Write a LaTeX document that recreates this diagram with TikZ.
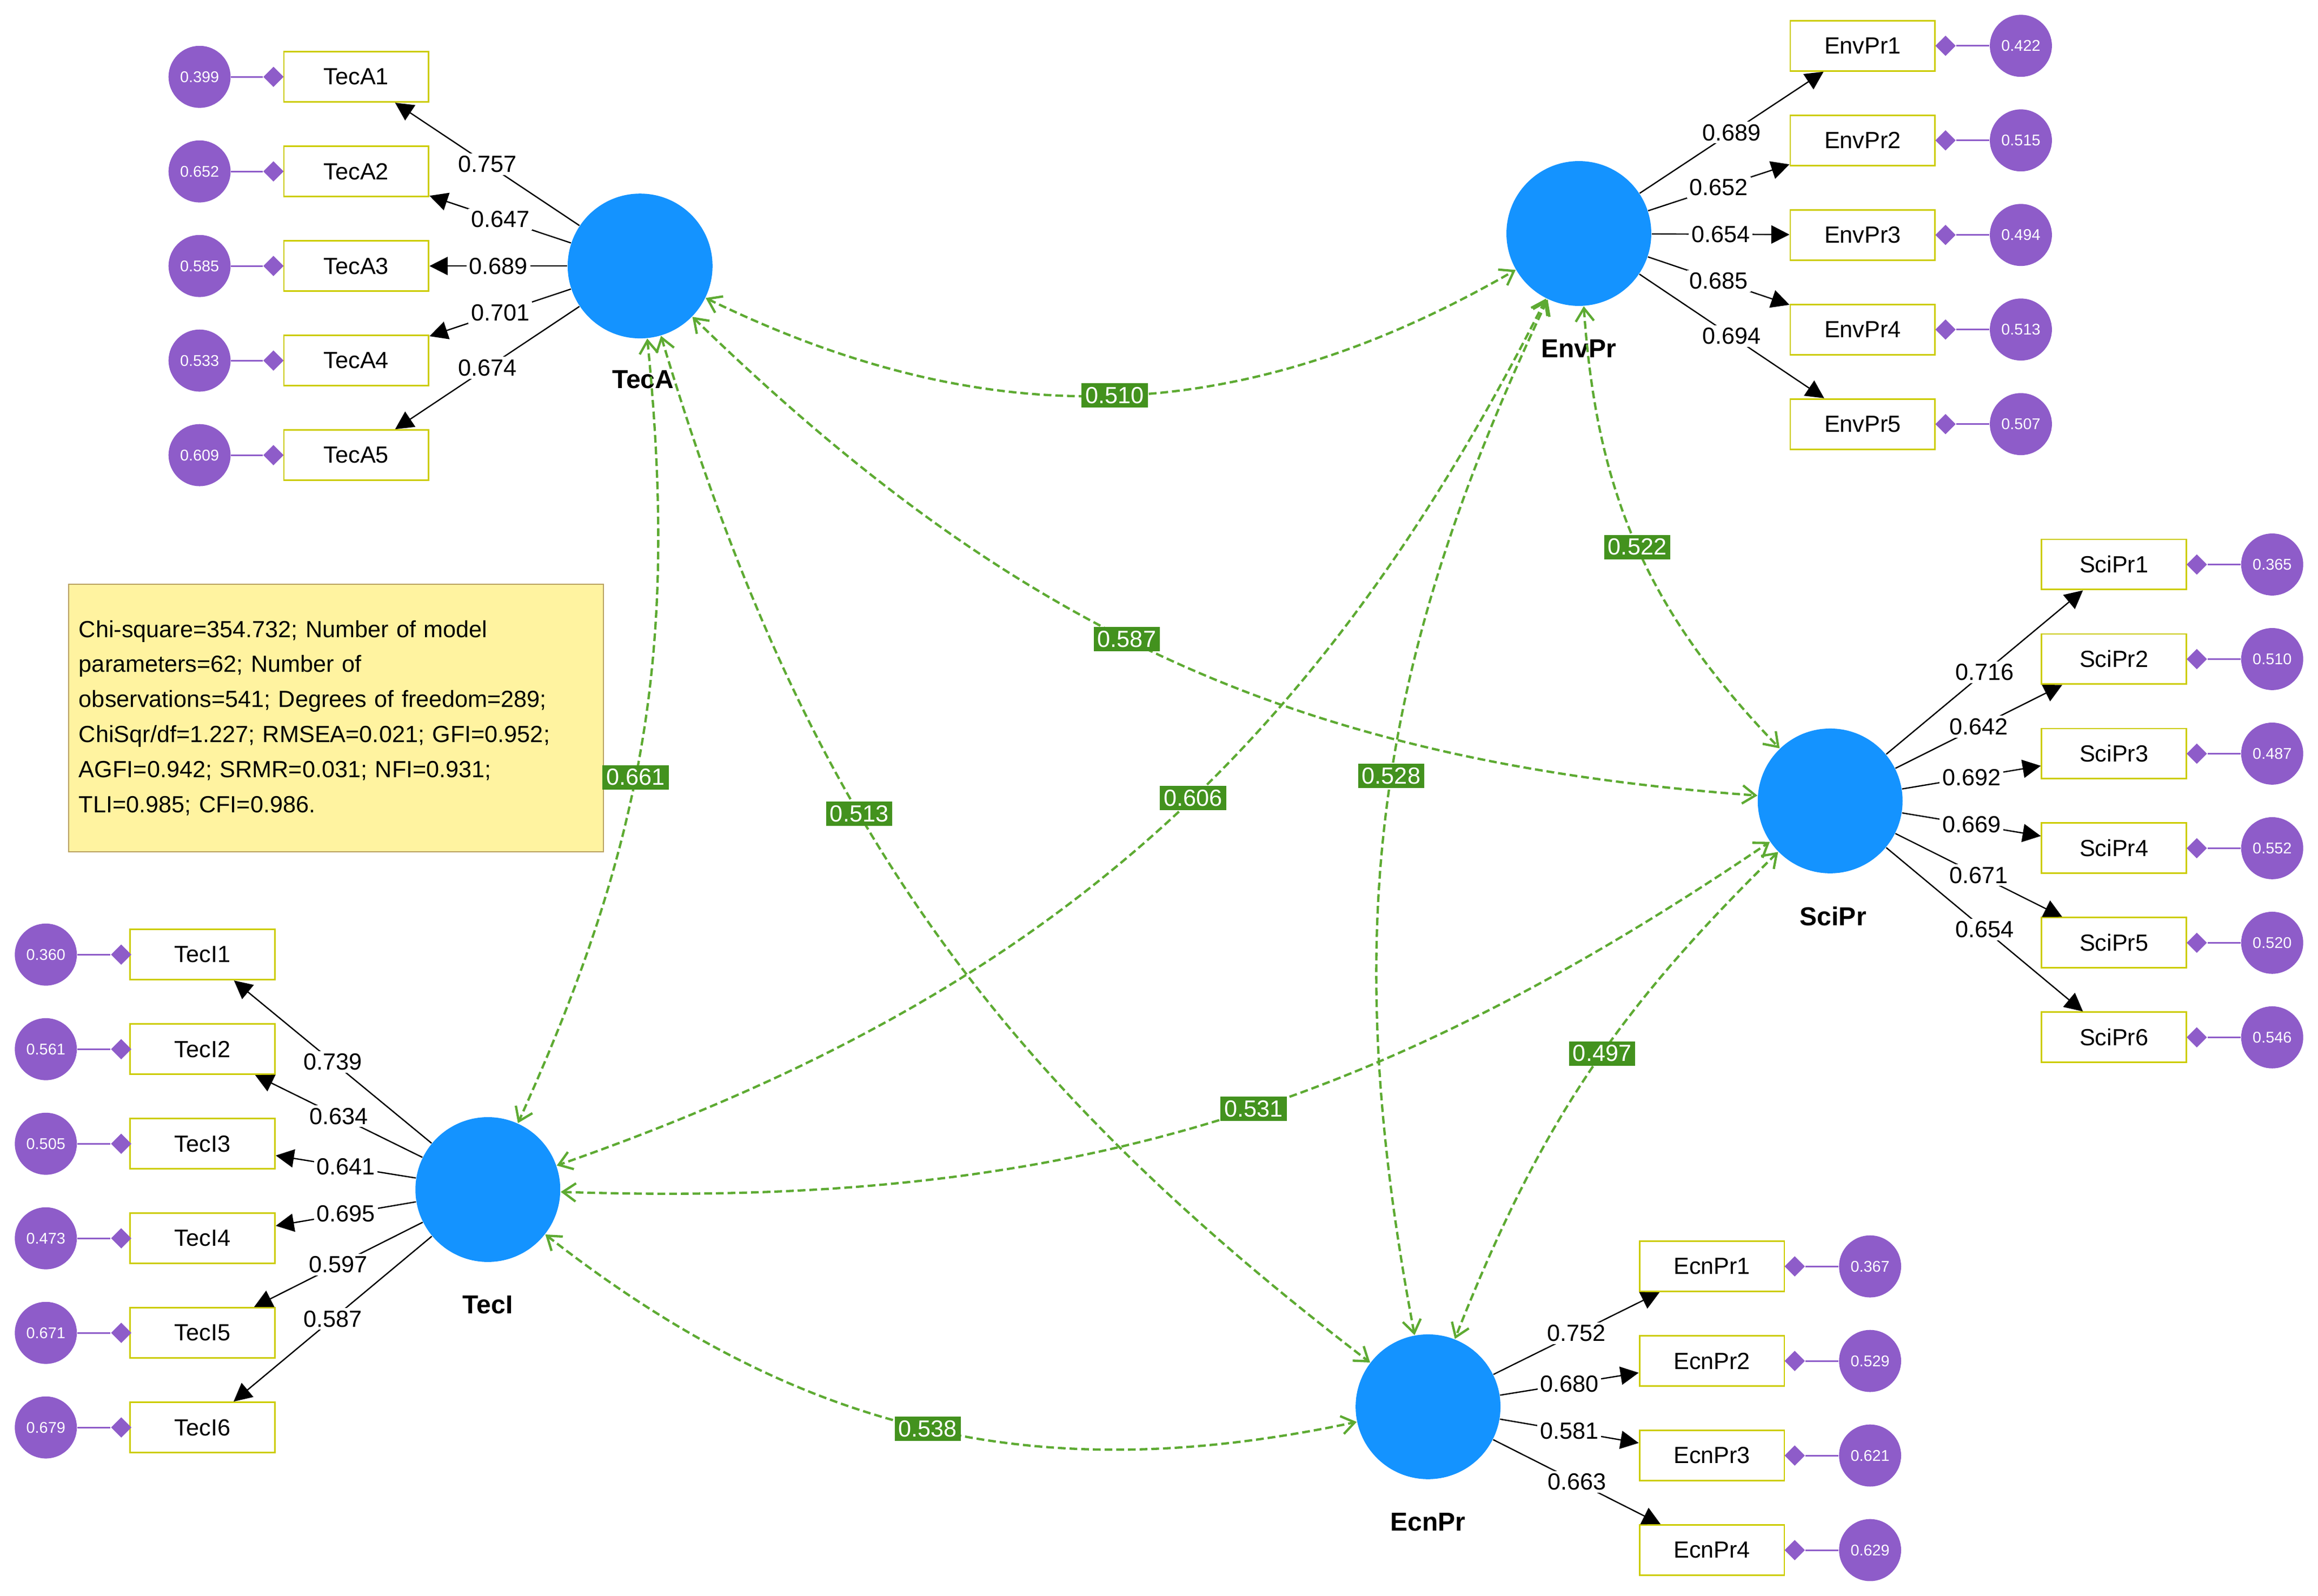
\documentclass[tikz,border=0pt]{standalone}
\usepackage{fontspec}
\setmainfont{Liberation Sans}
\usetikzlibrary{arrows.meta,shapes.geometric}
\definecolor{latblue}{HTML}{1493FF}
\definecolor{errpurple}{HTML}{8E5CC9}
\definecolor{boxyellow}{HTML}{CCCC00}
\definecolor{covgreen}{HTML}{5DAA32}
\definecolor{labgreen}{HTML}{43921E}
\definecolor{fitfill}{HTML}{FFF3A0}
\definecolor{fitdraw}{HTML}{B8A060}
\begin{document}
\begin{tikzpicture}[x=0.02cm,y=-0.02cm,font=\fontsize{9}{11}\selectfont]
  \tikzset{latent/.style={circle,fill=latblue,minimum size=1.96cm,inner sep=0pt},
    latlabel/.style={font=\fontsize{10}{12}\selectfont\bfseries},
    indicator/.style={draw=boxyellow,line width=0.6pt,fill=white,minimum width=1.96cm,minimum height=0.68cm,inner sep=0pt},
    error/.style={circle,fill=errpurple,text=white,minimum size=0.84cm,inner sep=0pt,font=\fontsize{6}{7}\selectfont},
    errdot/.style={diamond,fill=errpurple,minimum size=0.28cm,inner sep=0pt},
    loading/.style={-{Triangle[length=7pt,width=7pt]},line width=0.5pt},
    loadlabel/.style={fill=white,inner sep=1pt},
    cov/.style={{Straight Barb[length=5pt,width=7pt]}-{Straight Barb[length=5pt,width=7pt]},
      draw=covgreen,dashed,line width=0.9pt,dash pattern=on 3pt off 1.5pt},
    covlabel/.style={fill=labgreen,text=white,inner sep=1.5pt}}

  \useasboundingbox (0,0) rectangle (1568,1080);

  %% Fit indices
  \node[draw=fitdraw,fill=fitfill,anchor=north west,text width=6.96cm,align=left,
    inner sep=4pt,minimum height=3.62cm,font=\fontsize{9}{13.5}\selectfont] (fit) at (46,395)
    {Chi-square=354.732; Number of model\\ parameters=62; Number of\\
     observations=541; Degrees of freedom=289;\\ ChiSqr/df=1.227; RMSEA=0.021; GFI=0.952;\\
     AGFI=0.942; SRMR=0.031; NFI=0.931;\\ TLI=0.985; CFI=0.986.};

  %% Latent variables
  \node[latent] (TecA)  at (433,180) {};
  \node[latent] (EnvPr) at (1068,158) {};
  \node[latent] (SciPr) at (1238,542) {};
  \node[latent] (TecI)  at (330,805) {};
  \node[latent] (EcnPr) at (966,952) {};
  \node[latlabel] at (435,257) {TecA};
  \node[latlabel] at (1068,236) {EnvPr};
  \node[latlabel] at (1240,620) {SciPr};
  \node[latlabel] at (330,883) {TecI};
  \node[latlabel] at (966,1030) {EcnPr};

  %% Indicators with their errors: left side ones
  \foreach \i/\y/\e/\l in {1/52/0.399/0.757, 2/116/0.652/0.647, 3/180/0.585/0.689,
      4/244/0.533/0.701, 5/308/0.609/0.674} {%
    \node[indicator] (TecA\i) at (241,\y) {TecA\i};
    \node[error] (eTecA\i) at (135,\y) {\e};
    \node[errdot] (dTecA\i) at (185,\y) {};
    \draw[errpurple,line width=0.6pt] (eTecA\i) -- (dTecA\i);
    \draw[loading] (TecA) -- node[loadlabel] {\l} (TecA\i);
  }
  \foreach \i/\y/\e/\l in {1/646/0.360/0.739, 2/710/0.561/0.634, 3/774/0.505/0.641,
      4/838/0.473/0.695, 5/902/0.671/0.597, 6/966/0.679/0.587} {%
    \node[indicator] (TecI\i) at (137,\y) {TecI\i};
    \node[error] (eTecI\i) at (31,\y) {\e};
    \node[errdot] (dTecI\i) at (82,\y) {};
    \draw[errpurple,line width=0.6pt] (eTecI\i) -- (dTecI\i);
    \draw[loading] (TecI) -- node[loadlabel] {\l} (TecI\i);
  }

  %% Indicators with their errors: right side ones
  \foreach \i/\y/\e/\l in {1/31/0.422/0.689, 2/95/0.515/0.652, 3/159/0.494/0.654,
      4/223/0.513/0.685, 5/287/0.507/0.694} {%
    \node[indicator] (EnvPr\i) at (1260,\y) {EnvPr\i};
    \node[error] (eEnvPr\i) at (1367,\y) {\e};
    \node[errdot] (dEnvPr\i) at (1316,\y) {};
    \draw[errpurple,line width=0.6pt] (eEnvPr\i) -- (dEnvPr\i);
    \draw[loading] (EnvPr) -- node[loadlabel] {\l} (EnvPr\i);
  }
  \foreach \i/\y/\e/\l in {1/382/0.365/0.716, 2/446/0.510/0.642, 3/510/0.487/0.692,
      4/574/0.552/0.669, 5/638/0.520/0.671, 6/702/0.546/0.654} {%
    \node[indicator] (SciPr\i) at (1430,\y) {SciPr\i};
    \node[error] (eSciPr\i) at (1537,\y) {\e};
    \node[errdot] (dSciPr\i) at (1486,\y) {};
    \draw[errpurple,line width=0.6pt] (eSciPr\i) -- (dSciPr\i);
    \draw[loading] (SciPr) -- node[loadlabel] {\l} (SciPr\i);
  }
  \foreach \i/\y/\e/\l in {1/857/0.367/0.752, 2/921/0.529/0.680, 3/985/0.621/0.581,
      4/1049/0.629/0.663} {%
    \node[indicator] (EcnPr\i) at (1158,\y) {EcnPr\i};
    \node[error] (eEcnPr\i) at (1265,\y) {\e};
    \node[errdot] (dEcnPr\i) at (1214,\y) {};
    \draw[errpurple,line width=0.6pt] (eEcnPr\i) -- (dEcnPr\i);
    \draw[loading] (EcnPr) -- node[loadlabel] {\l} (EcnPr\i);
  }

  %% Covariances between latent variables
  \draw[cov] (TecA) to[bend right=28] node[covlabel] {0.510} (EnvPr);
  \draw[cov] (TecA) to[bend right=20] node[covlabel,pos=0.45] {0.587} (SciPr);
  \draw[cov] (TecA) to[bend left=15] node[covlabel,pos=0.55] {0.661} (TecI);
  \draw[cov] (TecA) to[bend right=18] node[covlabel,pos=0.4] {0.513} (EcnPr);
  \draw[cov] (EnvPr) to[bend left=22] node[covlabel,pos=0.45] {0.606} (TecI);
  \draw[cov] (EnvPr) to[bend right=20] node[covlabel,pos=0.5] {0.522} (SciPr);
  \draw[cov] (EnvPr) to[bend right=18] node[covlabel,pos=0.47] {0.528} (EcnPr);
  \draw[cov] (TecI) to[bend right=18] node[covlabel,pos=0.55] {0.531} (SciPr);
  \draw[cov] (SciPr) to[bend right=12] node[covlabel,pos=0.45] {0.497} (EcnPr);
  \draw[cov] (TecI) to[bend right=25] node[covlabel,pos=0.5] {0.538} (EcnPr);
\end{tikzpicture}
\end{document}
